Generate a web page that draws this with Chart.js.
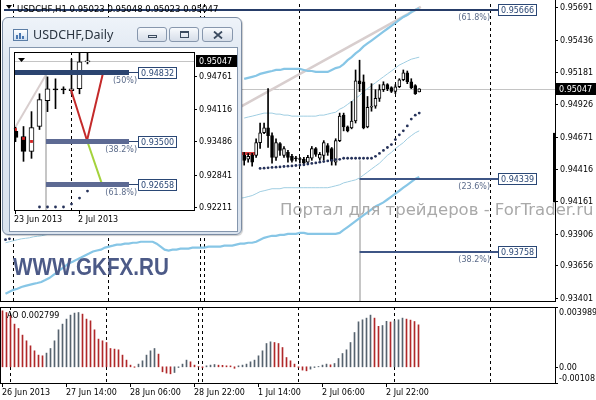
<!DOCTYPE html>
<html>
<head>
<meta charset="utf-8">
<script src="https://cdn.jsdelivr.net/npm/chart.js@4.4.1/dist/chart.umd.min.js"></script>
<style>
html, body { margin: 0; padding: 0; background: #fff; }
#stage { position: relative; width: 596px; height: 400px; overflow: hidden; background: #fff; }
canvas { position: absolute; display: block; }
#main { left: 0; top: 0; }
#ao { left: 0; top: 306px; }
#win { position: absolute; left: 2px; top: 17px; width: 240px; height: 218px; box-sizing: border-box;
  border: 1px solid #7b8ca3; border-radius: 6px;
  background: linear-gradient(#eef3f9, #e0e8f2 40px, #dae3ee); box-shadow: 1px 1px 1px rgba(0,0,0,.2); }
#win .title { position: absolute; left: 30px; top: 9px; font: 12.5px "Noto Sans", sans-serif; line-height: 16px; color: #2a3440; }
#win .icon { position: absolute; left: 10px; top: 11px; width: 13px; height: 10px; border: 1px solid #5c7ea6;
  background: linear-gradient(#ffffff, #cfe0f2); }
#win .icon i { position: absolute; bottom: 1px; width: 2px; background: #4a77b0; }
#win .btn { position: absolute; top: 9px; height: 15px; width: 30px; box-sizing: border-box; border: 1px solid #8797ad;
  border-radius: 3px; background: linear-gradient(#f8fafd, #e6ebf2 50%, #d6dee9); }
#win .btn b { position: absolute; box-sizing: border-box; }
#frame { position: absolute; left: 6px; top: 29px; width: 227px; height: 183px; border: 1px solid #8496ad; background: #fff; }
#daily { left: 0; top: 0; }
#gkfx { position: absolute; left: 13px; top: 255px; font: bold 24px "Liberation Sans", Arial, sans-serif; line-height: 24px;
  color: #4c5a87; transform: scaleX(0.86); transform-origin: 0 0; white-space: nowrap; }
#wm { position: absolute; left: 280px; top: 202px; font: 16.5px "DejaVu Sans", sans-serif; line-height: 16.5px;
  color: #a9a9a9; white-space: nowrap; }
</style>
</head>
<body>
<div id="stage">
  <canvas id="main" width="596" height="305"></canvas>
  <canvas id="ao" width="596" height="94"></canvas>
  <div id="wm">Портал для трейдеров - ForTrader.ru</div>
  <div id="gkfx">WWW.GKFX.RU</div>
  <div id="win">
    <div class="icon"><i style="left:2px;height:4px"></i><i style="left:5px;height:6px"></i><i style="left:8px;height:3px"></i></div>
    <div class="title">USDCHF,Daily</div>
    <div class="btn" style="left:134px"><b style="left:10px;top:7px;width:9px;height:3px;border:1px solid #3b4b5f"></b></div>
    <div class="btn" style="left:166px"><b style="left:10px;top:3px;width:9px;height:7px;border:1px solid #3b4b5f;border-top-width:2px"></b></div>
    <div class="btn" style="left:199px;width:31px">
      <svg style="position:absolute;left:10px;top:3px" width="10" height="8"><path d="M1 0.5L9 7.5M9 0.5L1 7.5" stroke="#3b4b5f" stroke-width="1.8"/></svg>
    </div>
    <div id="frame"><canvas id="daily" width="227" height="183"></canvas></div>
  </div>
</div>
<script>
// -----------------------------
// USDCHF H1 (bar 0 = 26 Jun 22:00, one bar per hour)
// -----------------------------
const symbol = "USDCHF";
const xTickBars = [0, 16, 32, 48, 64, 80, 96];
const xTickLabels = ["26 Jun 2013", "27 Jun 14:00", "28 Jun 06:00", "28 Jun 22:00", "1 Jul 14:00", "2 Jul 06:00", "2 Jul 22:00"];
const separatorBars = [2, 26, 49, 50, 74, 98, 122];
const priceTicks = [0.95691, 0.95436, 0.95181, 0.94926, 0.94671, 0.94416, 0.94161, 0.93906, 0.93656, 0.93401];

// candles before bar 60 sit under the Daily window
const candleStart = 60;
const open = [0.94523, 0.94492, 0.94523, 0.94523, 0.94623, 0.94701, 0.94740, 0.94678, 0.94507, 0.94616,
  0.94523, 0.94546, 0.94515, 0.94500, 0.94492, 0.94492, 0.94469, 0.94500, 0.94577, 0.94500,
  0.94523, 0.94600, 0.94577, 0.94469, 0.94639, 0.94840, 0.94747, 0.94740, 0.94794, 0.95111,
  0.95103, 0.94747, 0.94902, 0.94910, 0.94972, 0.95041, 0.95080, 0.95057, 0.95026, 0.95064,
  0.95119, 0.95173, 0.95103, 0.95072, 0.95023];
const high = [0.94546, 0.94538, 0.94538, 0.94654, 0.94778, 0.94778, 0.95049, 0.94701, 0.94654, 0.94623,
  0.94593, 0.94562, 0.94531, 0.94515, 0.94507, 0.94507, 0.94523, 0.94593, 0.94585, 0.94546,
  0.94639, 0.94616, 0.94585, 0.94654, 0.94856, 0.94856, 0.94755, 0.94948, 0.95196, 0.95273,
  0.95157, 0.94987, 0.95088, 0.95041, 0.95080, 0.95103, 0.95088, 0.95064, 0.95080, 0.95127,
  0.95196, 0.95188, 0.95127, 0.95080, 0.95048];
const low = [0.94446, 0.94469, 0.94438, 0.94507, 0.94577, 0.94693, 0.94585, 0.94461, 0.94484, 0.94523,
  0.94507, 0.94469, 0.94469, 0.94477, 0.94461, 0.94446, 0.94461, 0.94484, 0.94515, 0.94484,
  0.94484, 0.94523, 0.94446, 0.94446, 0.94631, 0.94716, 0.94708, 0.94732, 0.94778, 0.95026,
  0.94732, 0.94740, 0.94871, 0.94894, 0.94948, 0.95026, 0.95033, 0.95018, 0.95010, 0.95057,
  0.95111, 0.95088, 0.95049, 0.95003, 0.95023];
const close = [0.94484, 0.94515, 0.94469, 0.94623, 0.94701, 0.94740, 0.94678, 0.94507, 0.94623, 0.94562,
  0.94577, 0.94507, 0.94484, 0.94496, 0.94490, 0.94461, 0.94507, 0.94577, 0.94531, 0.94531,
  0.94623, 0.94546, 0.94477, 0.94639, 0.94832, 0.94747, 0.94716, 0.94794, 0.95111, 0.95088,
  0.94740, 0.94902, 0.94910, 0.94972, 0.95041, 0.95080, 0.95049, 0.95026, 0.95064, 0.95119,
  0.95173, 0.95103, 0.95057, 0.95010, 0.95047];

// bands: thick pair and thin pair
const thickUpper = [0.95126, 0.95134, 0.95142, 0.95150, 0.95165, 0.95173, 0.95181, 0.95188, 0.95196, 0.95196,
  0.95204, 0.95204, 0.95204, 0.95204, 0.95204, 0.95196, 0.95188, 0.95188, 0.95181, 0.95181,
  0.95181, 0.95181, 0.95196, 0.95211, 0.95219, 0.95242, 0.95273, 0.95297, 0.95327, 0.95351,
  0.95382, 0.95405, 0.95428, 0.95451, 0.95474, 0.95498, 0.95521, 0.95544, 0.95567, 0.95590,
  0.95614, 0.95629, 0.95652, 0.95668, 0.95683]; // bars 60..104
const thinUpper = [0.94817, 0.94825, 0.94832, 0.94840, 0.94848, 0.94856, 0.94856, 0.94856, 0.94848, 0.94848,
  0.94840, 0.94840, 0.94832, 0.94832, 0.94832, 0.94832, 0.94832, 0.94832, 0.94832, 0.94840,
  0.94840, 0.94848, 0.94856, 0.94863, 0.94887, 0.94902, 0.94925, 0.94948, 0.94972, 0.94995,
  0.95026, 0.95049, 0.95072, 0.95095, 0.95119, 0.95142, 0.95165, 0.95188, 0.95211, 0.95235,
  0.95250, 0.95266, 0.95281, 0.95289, 0.95297]; // bars 60..104
const thinLowerLeft = [0.93834, 0.93842, 0.93850, 0.93858, 0.93865, 0.93869, 0.93873, 0.93881, 0.93885, 0.93889, 0.93896]; // bars 0..10
const thinLower = [0.94190, 0.94198, 0.94206, 0.94221, 0.94237, 0.94244, 0.94252, 0.94260, 0.94260, 0.94260,
  0.94268, 0.94268, 0.94268, 0.94268, 0.94268, 0.94268, 0.94268, 0.94268, 0.94268, 0.94268,
  0.94268, 0.94268, 0.94275, 0.94283, 0.94291, 0.94306, 0.94314, 0.94322, 0.94330, 0.94345,
  0.94368, 0.94391, 0.94415, 0.94438, 0.94461, 0.94492, 0.94523, 0.94546, 0.94577, 0.94600,
  0.94623, 0.94654, 0.94678, 0.94701, 0.94716]; // bars 60..104
const thickLower = [0.93432, 0.93448, 0.93463, 0.93471, 0.93486, 0.93494, 0.93502, 0.93510, 0.93517, 0.93525,
  0.93540, 0.93556, 0.93579, 0.93602, 0.93626, 0.93649, 0.93672, 0.93687, 0.93703, 0.93718,
  0.93734, 0.93749, 0.93765, 0.93773, 0.93780, 0.93796, 0.93804, 0.93811, 0.93819, 0.93819,
  0.93827, 0.93827, 0.93834, 0.93834, 0.93842, 0.93842, 0.93842, 0.93842, 0.93827, 0.93804,
  0.93780, 0.93773, 0.93780, 0.93780, 0.93788, 0.93788, 0.93788, 0.93796, 0.93796, 0.93796,
  0.93796, 0.93804, 0.93804, 0.93804, 0.93804, 0.93811, 0.93811, 0.93811, 0.93819, 0.93827,
  0.93827, 0.93834, 0.93834, 0.93842, 0.93858, 0.93873, 0.93881, 0.93889, 0.93889, 0.93896,
  0.93896, 0.93904, 0.93904, 0.93904, 0.93912, 0.93912, 0.93904, 0.93904, 0.93904, 0.93904,
  0.93904, 0.93904, 0.93904, 0.93904, 0.93912, 0.93935, 0.93958, 0.93981, 0.94005, 0.94028,
  0.94051, 0.94074, 0.94097, 0.94121, 0.94136, 0.94152, 0.94175, 0.94198, 0.94221, 0.94244,
  0.94268, 0.94291, 0.94314, 0.94337, 0.94353]; // bars 0..104

// parabolic SAR
const sarLeft = [0.93858, 0.93865]; // bars 0..1
const sar = [0.94420, 0.94422, 0.94425, 0.94428, 0.94430, 0.94432, 0.94435, 0.94438, 0.94440, 0.94443,
  0.94446, 0.94448, 0.94455, 0.94459, 0.94463, 0.94469, 0.94474, 0.94479, 0.94484, 0.94490,
  0.94492, 0.94500, 0.94500, 0.94500, 0.94500, 0.94500, 0.94500, 0.94500, 0.94500, 0.94515,
  0.94538, 0.94562, 0.94585, 0.94608, 0.94647, 0.94685, 0.94716, 0.94755, 0.94809, 0.94840,
  0.94856]; // bars 64..104

// fibo levels on the H1 chart
const fibLevels = [0.95666, 0.94339, 0.93758];
const fibNames = ["61.8%", "23.6%", "38.2%"];
const fibStartBars = [-1, 89, 89];
const fibEndBar = 122;
const fibTrend = [[40, 0.94574], [104.4, 0.95693]];
const vLineBar = 89, vLineFrom = 0.94484;
const redLine = { from: 40, to: 63, price: 0.94538 };
const scaleBand = [0.94153, 0.94700];

// Awesome Oscillator, bars 0..104
const aoValues = [0.003735, 0.003622, 0.003402, 0.002848, 0.002555, 0.002114, 0.001734, 0.001401, 0.001067, 0.000780,
  0.000734, 0.000914, 0.001221, 0.001734, 0.002468, 0.002848, 0.003182, 0.003448, 0.003582, 0.003622,
  0.003515, 0.003182, 0.003068, 0.002468, 0.001848, 0.001734, 0.001621, 0.001221, 0.001181, 0.001134,
  0.000780, 0.000447, 0.000113, -0.000033, 0.000180, 0.000400, 0.000780, 0.001067, 0.001221, 0.000847,
  -0.000333, -0.000420, -0.000467, -0.000380, -0.000047, 0.000180, 0.000447, 0.000333, 0.000113, 0.000020,
  -0.000067, 0.000067, 0.000113, 0.000153, 0.000110, 0.000100, 0.000067, 0.000060, -0.000100, 0.000067,
  0.000113, 0.000180, 0.000333, 0.000447, 0.000734, 0.001067, 0.001554, 0.001667, 0.001621, 0.001554,
  0.001287, 0.000620, 0.000400, 0.000180, -0.000047, -0.000220, -0.000267, -0.000153, -0.000047, 0.000020,
  0.000113, 0.000180, 0.000133, 0.000220, 0.000554, 0.000887, 0.001134, 0.001621, 0.002288, 0.003001,
  0.003135, 0.003248, 0.003448, 0.003248, 0.002701, 0.002755, 0.003035, 0.002988, 0.003068, 0.003135,
  0.003248, 0.003182, 0.003115, 0.003021, 0.002799];
const aoTicks = [0.003989, 0, -0.00108];
const aoTickLabels = ["0.003989", "0.00", "-0.00108"];

// -----------------------------
// USDCHF Daily (bar 0 = 23 Jun)
// -----------------------------
const dOpen = [0.93680, 0.93581, 0.93291, 0.93774, 0.94275, 0.94490, 0.94490, 0.94468, 0.94507, 0.95030];
const dHigh = [0.93760, 0.93774, 0.94063, 0.94410, 0.94738, 0.94700, 0.94545, 0.95086, 0.95273, 0.95196];
const dLow = [0.93480, 0.93098, 0.93156, 0.93716, 0.94063, 0.94121, 0.94410, 0.94410, 0.94410, 0.94990];
const dClose = [0.93560, 0.93291, 0.93754, 0.94295, 0.94507, 0.94485, 0.94487, 0.94507, 0.95028, 0.95047];
const dMarks = [0.93716, 0.93542, 0.93484]; // bars 0..2
const dSar = [0.92211, 0.92211, 0.92211, 0.92211, 0.92269, 0.92385, 0.92520]; // bars 3..9
const dTicks = [0.94761, 0.94116, 0.93486, 0.92841, 0.92211];
const dTickBars = [0, 8];
const dTickLabels = ["23 Jun 2013", "2 Jul 2013"];
const dFibLevels = [0.94832, 0.93500, 0.92658];
const dFibNames = ["50%", "38.2%", "61.8%"];
const dFibStart = [-1, 3.81, 3.81];
const dFibEnd = 14.19;
const dWave = [[6.94, 0.94487], [8.94, 0.93503], [10.81, 0.92655]];
const dWaveUp = [[8.94, 0.93503], [10.94, 0.94815]];
const dTrend = [[-0.19, 0.93716], [3.81, 0.94777]];
const dMarkBar = 7;

// -----------------------------
// helpers
// -----------------------------
const FONT = '8px "DejaVu Sans", sans-serif';
const seg = (start, arr) => arr.map((v, k) => ({ x: start + k, y: v }));
const crisp = v => Math.round(v) + 0.5;

function line(ctx, x1, y1, x2, y2, color, w) {
  ctx.strokeStyle = color;
  ctx.lineWidth = w;
  ctx.beginPath();
  ctx.moveTo(x1, y1);
  ctx.lineTo(x2, y2);
  ctx.stroke();
}

function tagBox(ctx, left, cy, text, color) {
  ctx.font = FONT;
  const w = Math.ceil(ctx.measureText(text).width) + 5;
  const top = Math.round(cy) - 6;
  ctx.fillStyle = "#fff";
  ctx.fillRect(left, top, w, 12);
  ctx.strokeStyle = color;
  ctx.lineWidth = 1;
  ctx.strokeRect(left + 0.5, top + 0.5, w - 1, 11);
  ctx.fillStyle = color;
  ctx.textAlign = "left";
  ctx.textBaseline = "middle";
  ctx.fillText(text, left + 3, top + 6.5);
}

function priceTag(ctx, left, cy, w, text) {
  ctx.fillStyle = "#000";
  ctx.fillRect(left, Math.round(cy) - 6, w, 12);
  ctx.fillStyle = "#fff";
  ctx.font = FONT;
  ctx.textAlign = "left";
  ctx.textBaseline = "middle";
  ctx.fillText(text, left + 3, Math.round(cy) + 0.5);
}

function candleSets(start, o, h, l, c, body) {
  return [
    {
      data: o.map((v, k) => ({ x: start + k, y: [v, c[k]] })),
      backgroundColor: ctx => (c[ctx.dataIndex] >= o[ctx.dataIndex] ? "#fff" : "#000"),
      borderColor: "#000", borderWidth: 1, borderSkipped: false,
      barThickness: body, grouped: false, minBarLength: 1, order: 1
    },
    {
      data: h.map((v, k) => ({ x: start + k, y: [l[k], v] })),
      backgroundColor: "#000", barThickness: 1, grouped: false, order: 2
    }
  ];
}

const baseOptions = (pad, xr, yr) => ({
  responsive: false, animation: false, devicePixelRatio: 1,
  layout: { padding: pad },
  plugins: { legend: { display: false }, tooltip: { enabled: false } },
  events: [],
  scales: {
    x: { type: "linear", display: false, offset: false, bounds: "ticks", min: xr[0], max: xr[1] },
    y: { display: false, min: yr[0], max: yr[1] }
  }
});

// -----------------------------
// H1 main panel
// -----------------------------
const mainDecor = {
  id: "mainDecor",
  beforeDatasetsDraw(chart) {
    const { ctx, chartArea: a, scales: { x, y } } = chart;
    ctx.save();
    const last = close[close.length - 1];
    line(ctx, a.left, crisp(y.getPixelForValue(last)), a.right, crisp(y.getPixelForValue(last)), "#c4c4c4", 1);

    ctx.setLineDash([3, 3]);
    separatorBars.forEach(b => {
      const xp = Math.floor(x.getPixelForValue(b)) + 0.5;
      if (xp < a.right) line(ctx, xp, a.top, xp, a.bottom, "#000", 1);
    });
    ctx.setLineDash([]);

    line(ctx, x.getPixelForValue(fibTrend[0][0]), y.getPixelForValue(fibTrend[0][1]),
      x.getPixelForValue(fibTrend[1][0]), y.getPixelForValue(fibTrend[1][1]), "rgb(216,206,206)", 2.5);
    const vx = Math.round(x.getPixelForValue(vLineBar));
    line(ctx, vx, y.getPixelForValue(vLineFrom), vx, a.bottom, "#c6c6c6", 2);
    line(ctx, x.getPixelForValue(redLine.from), Math.round(y.getPixelForValue(redLine.price)) + 0.5,
      x.getPixelForValue(redLine.to), Math.round(y.getPixelForValue(redLine.price)) + 0.5, "#cf3b3b", 3);
    ctx.restore();
  },
  afterDatasetsDraw(chart) {
    const { ctx, chartArea: a, scales: { x, y } } = chart;
    ctx.save();
    // fibo levels
    const endX = Math.round(x.getPixelForValue(fibEndBar));
    fibLevels.forEach((lv, k) => {
      const py = Math.round(y.getPixelForValue(lv));
      const sx = Math.max(a.left, x.getPixelForValue(fibStartBars[k]));
      line(ctx, sx, py, endX + 7, py, k === 0 ? "#263c68" : "#3e5585", 2);
      ctx.font = FONT;
      ctx.fillStyle = "#5b6b8a";
      ctx.textAlign = "right";
      ctx.textBaseline = "middle";
      ctx.fillText("(" + fibNames[k] + ")", endX - 1, py + 8);
      tagBox(ctx, endX + 7, py, lv.toFixed(5), "#2a4775");
    });

    // frame (no top edge: the window is cropped there)
    line(ctx, 0.5, 0, 0.5, a.bottom + 1, "#000", 1);
    line(ctx, 0, a.bottom + 0.5, a.right + 1, a.bottom + 0.5, "#000", 1);
    line(ctx, a.right + 0.5, 0, a.right + 0.5, a.bottom + 1, "#000", 1);

    // price scale
    ctx.font = FONT;
    ctx.fillStyle = "#000";
    ctx.textAlign = "left";
    ctx.textBaseline = "middle";
    priceTicks.forEach(p => {
      const py = y.getPixelForValue(p);
      line(ctx, a.right, crisp(py), a.right + 3, crisp(py), "#000", 1);
      ctx.fillStyle = "#000";
      ctx.fillText(p.toFixed(5), a.right + 5, Math.round(py) + 0.5);
    });
    ctx.fillStyle = "#000";
    const b1 = y.getPixelForValue(scaleBand[1]), b0 = y.getPixelForValue(scaleBand[0]);
    ctx.fillRect(a.right - 2, b1, 3, b0 - b1);
    const last = close[close.length - 1];
    priceTag(ctx, a.right + 1, y.getPixelForValue(last), chart.width - a.right - 1, last.toFixed(5));

    // header
    ctx.fillStyle = "#000";
    ctx.beginPath();
    ctx.moveTo(6, 5); ctx.lineTo(12, 5); ctx.lineTo(9, 9); ctx.closePath(); ctx.fill();
    const n = close.length - 1;
    ctx.font = '8.5px "DejaVu Sans", sans-serif';
    ctx.textAlign = "left";
    ctx.textBaseline = "alphabetic";
    ctx.fillText(symbol + ",H1 " + [open[n], high[n], low[n], close[n]].map(v => v.toFixed(5)).join(" "), 17, 12);
    ctx.restore();
  }
};

new Chart(document.getElementById("main"), {
  type: "bar",
  data: {
    datasets: [
      { type: "line", data: [...seg(0, sarLeft), ...seg(64, sar)], showLine: false, pointRadius: 1.4,
        pointBackgroundColor: "#26325a", pointBorderWidth: 0, order: 0 },
      ...candleSets(candleStart, open, high, low, close, 3),
      { type: "line", data: seg(60, thinUpper), borderColor: "rgb(160,206,226)", borderWidth: 1, pointRadius: 0, order: 4 },
      { type: "line", data: [...seg(0, thinLowerLeft), ...seg(60, thinLower)], borderColor: "rgb(160,206,226)", borderWidth: 1, pointRadius: 0, order: 4 },
      { type: "line", data: seg(60, thickUpper), borderColor: "rgb(135,198,230)", borderWidth: 2.2, pointRadius: 0, order: 5 },
      { type: "line", data: seg(0, thickLower), borderColor: "rgb(135,198,230)", borderWidth: 2.2, pointRadius: 0, order: 5 }
    ]
  },
  options: baseOptions({ left: 1, right: 41, top: 0, bottom: 1 }, [-0.375, 138.125], [0.93375, 0.95716]),
  plugins: [mainDecor]
});

// -----------------------------
// AO panel
// -----------------------------
const aoDecor = {
  id: "aoDecor",
  beforeDatasetsDraw(chart) {
    const { ctx, chartArea: a, scales: { x } } = chart;
    ctx.save();
    ctx.setLineDash([3, 3]);
    separatorBars.forEach(b => {
      const xp = Math.floor(x.getPixelForValue(b)) + 0.5;
      if (xp < a.right) line(ctx, xp, a.top, xp, a.bottom, "#000", 1);
    });
    ctx.restore();
  },
  afterDatasetsDraw(chart) {
    const { ctx, chartArea: a, scales: { x, y } } = chart;
    ctx.save();
    line(ctx, 0.5, a.top, 0.5, a.bottom + 1, "#000", 1);
    line(ctx, 0, a.top + 0.5, a.right + 1, a.top + 0.5, "#000", 1);
    line(ctx, 0, a.bottom + 0.5, a.right + 1, a.bottom + 0.5, "#000", 1);
    line(ctx, a.right + 0.5, a.top, a.right + 0.5, a.bottom + 1, "#000", 1);

    ctx.font = FONT;
    ctx.fillStyle = "#000";
    ctx.textAlign = "left";
    ctx.textBaseline = "middle";
    const shift = [6, 0.5, -4];
    aoTicks.forEach((v, k) => {
      const py = Math.round(y.getPixelForValue(v));
      line(ctx, a.right, py + 0.5, a.right + 3, py + 0.5, "#000", 1);
      ctx.fillText(aoTickLabels[k], a.right + 4, py + shift[k]);
    });
    ctx.fillText("AO " + aoValues[aoValues.length - 1].toFixed(6), 7, a.top + 9);

    xTickBars.forEach((b, k) => {
      const xp = Math.floor(x.getPixelForValue(b)) + 0.5;
      line(ctx, xp, a.bottom + 1, xp, a.bottom + 4, "#000", 1);
      ctx.fillText(xTickLabels[k], xp - 0.5, a.bottom + 9.5);
    });
    ctx.restore();
  }
};

new Chart(document.getElementById("ao"), {
  type: "bar",
  data: {
    datasets: [{
      data: seg(0, aoValues),
      backgroundColor: ctx => {
        const i = ctx.dataIndex;
        return i > 0 && aoValues[i] > aoValues[i - 1] ? "#56636f" : "#b0282a";
      },
      barThickness: 1, grouped: false
    }]
  },
  options: baseOptions({ left: 1, right: 41, top: 1, bottom: 17 }, [-0.375, 138.125], [aoTicks[2], aoTicks[0]]),
  plugins: [aoDecor]
});

// -----------------------------
// Daily inset window
// -----------------------------
const dailyDecor = {
  id: "dailyDecor",
  beforeDatasetsDraw(chart) {
    const { ctx, chartArea: a, scales: { x, y } } = chart;
    ctx.save();
    const last = dClose[dClose.length - 1];
    line(ctx, a.left, crisp(y.getPixelForValue(last)), a.right, crisp(y.getPixelForValue(last)), "#c4c4c4", 1);
    line(ctx, x.getPixelForValue(dTrend[0][0]), y.getPixelForValue(dTrend[0][1]),
      x.getPixelForValue(dTrend[1][0]), y.getPixelForValue(dTrend[1][1]), "rgb(216,206,206)", 2);
    const vx = Math.round(x.getPixelForValue(dTrend[1][0]));
    line(ctx, vx, y.getPixelForValue(dTrend[1][1]), vx, a.bottom, "#c6c6c6", 2);
    ctx.setLineDash([3, 3]);
    const mx = Math.floor(x.getPixelForValue(dMarkBar)) + 0.5;
    line(ctx, mx, a.top, mx, a.bottom, "#000", 1);
    ctx.restore();
  },
  afterDatasetsDraw(chart) {
    const { ctx, chartArea: a, scales: { x, y } } = chart;
    ctx.save();
    ctx.beginPath();
    ctx.rect(a.left, a.top, a.right - a.left, a.bottom - a.top);
    ctx.clip();
    const P = p => [x.getPixelForValue(p[0]), y.getPixelForValue(p[1])];
    let s = P(dWave[0]), m = P(dWave[1]), e = P(dWave[2]);
    line(ctx, s[0], s[1], m[0], m[1], "#c42a2a", 2);
    line(ctx, m[0], m[1], e[0], e[1], "#a4d23c", 2);
    s = P(dWaveUp[0]); e = P(dWaveUp[1]);
    line(ctx, s[0], s[1], e[0], e[1], "#c42a2a", 2);

    const endX = Math.round(x.getPixelForValue(dFibEnd));
    dFibLevels.forEach((lv, k) => {
      const py = Math.round(y.getPixelForValue(lv)) + 0.5;
      const sx = Math.max(a.left, x.getPixelForValue(dFibStart[k]));
      line(ctx, sx, py, endX, py, k === 0 ? "#2b4470" : "#5d6a93", 5);
      line(ctx, endX, py, endX + 9, py, "#2b4470", 1);
      ctx.font = FONT;
      ctx.fillStyle = "#5b6b8a";
      ctx.textAlign = "right";
      ctx.textBaseline = "middle";
      ctx.fillText("(" + dFibNames[k] + ")", endX + 8, py + 8);
      tagBox(ctx, endX + 9, py, lv.toFixed(5), "#2a4775");
    });
    ctx.fillStyle = "#000";
    ctx.beginPath();
    ctx.moveTo(a.left + 4, a.top + 6); ctx.lineTo(a.left + 11, a.top + 6); ctx.lineTo(a.left + 7.5, a.top + 10);
    ctx.closePath(); ctx.fill();
    ctx.restore();

    ctx.save();
    ctx.strokeStyle = "#000";
    ctx.lineWidth = 1;
    ctx.strokeRect(a.left + 0.5, a.top + 0.5, a.right - a.left, a.bottom - a.top);
    ctx.font = FONT;
    ctx.fillStyle = "#000";
    ctx.textAlign = "left";
    ctx.textBaseline = "middle";
    dTicks.forEach(p => {
      const py = y.getPixelForValue(p);
      line(ctx, a.right, crisp(py), a.right + 3, crisp(py), "#000", 1);
      ctx.fillText(p.toFixed(5), a.right + 5, Math.round(py) + 0.5);
    });
    const last = dClose[dClose.length - 1];
    priceTag(ctx, a.right + 2, y.getPixelForValue(last), chart.width - a.right - 2, last.toFixed(5));
    ctx.fillStyle = "#000";
    dTickBars.forEach((b, k) => {
      const xp = Math.floor(x.getPixelForValue(b)) + 0.5;
      line(ctx, xp, a.bottom + 1, xp, a.bottom + 4, "#000", 1);
      ctx.fillText(dTickLabels[k], xp - 1.5, a.bottom + 9.5);
    });
    ctx.restore();
  }
};

new Chart(document.getElementById("daily"), {
  type: "bar",
  data: {
    datasets: [
      { type: "line", data: seg(3, dSar), showLine: false, pointRadius: 1.4,
        pointBackgroundColor: "#26325a", pointBorderWidth: 0, order: 0 },
      { type: "line", data: seg(0, dMarks), showLine: false, pointStyle: "rect", pointRadius: 2,
        pointBackgroundColor: "#d42020", pointBorderWidth: 0, order: 0 },
      ...candleSets(0, dOpen, dHigh, dLow, dClose, 5)
    ]
  },
  options: baseOptions({ left: 4, right: 43, top: 3, bottom: 21 }, [-0.1875, 22.3125], [0.92153, 0.95221]),
  plugins: [dailyDecor]
});
</script>
</body>
</html>
